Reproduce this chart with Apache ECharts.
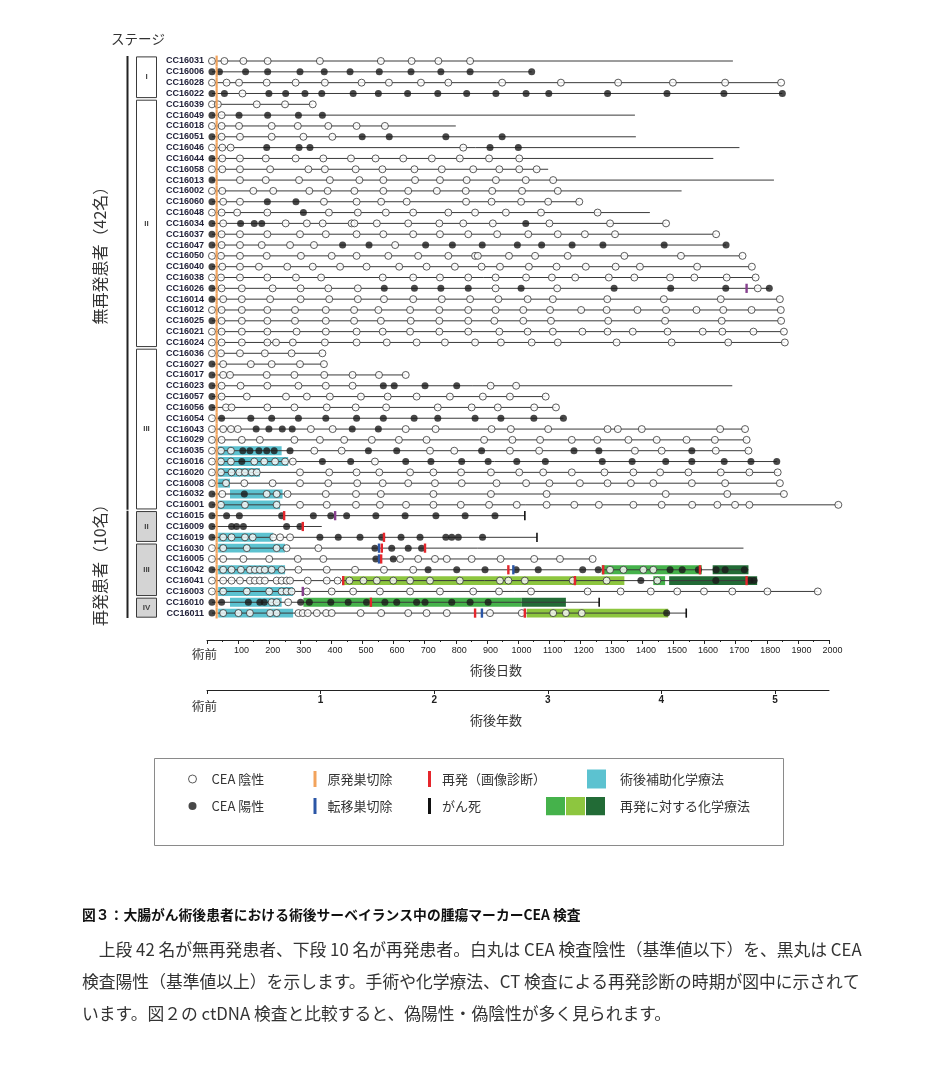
<!DOCTYPE html>
<html><head><meta charset="utf-8">
<script src="https://cdn.jsdelivr.net/npm/echarts@6.0.0/dist/echarts.min.js"></script>
<style>html,body{margin:0;padding:0;background:#fff}#c{width:945px;height:1067px}</style>
</head><body><div id="c"></div>
<script>
// ---------------- DATA (days after surgery) ----------------
const patients = ['CC16031','CC16006','CC16028','CC16022','CC16039','CC16049','CC16018','CC16051','CC16046','CC16044','CC16058','CC16013','CC16002','CC16060','CC16048','CC16034','CC16037','CC16047','CC16050','CC16040','CC16038','CC16026','CC16014','CC16012','CC16025','CC16021','CC16024','CC16036','CC16027','CC16017','CC16023','CC16057','CC16056','CC16054','CC16043','CC16029','CC16035','CC16016','CC16020','CC16008','CC16032','CC16001','CC16015','CC16009','CC16019','CC16030','CC16005','CC16042','CC16041','CC16003','CC16010','CC16011'];

const preopDay = 16;      // pre-operative CEA test position
const surgeryDay = 31;    // primary resection mark

const followUpEnd = [1691,1044,1846,1850,340,1376,800,1379,1712,1628,1097,1823,1526,1197,1424,1476,1637,1669,1722,1752,1764,1808,1842,1845,1846,1855,1858,371,376,639,1689,1089,1122,1146,1730,1735,1741,1832,1835,1842,1855,2030,1022,369,1061,1725,1240,1741,1769,1964,1261,1541];

const ceaNegative = [
 [16,56,117,195,363,559,658,744,846],
 [],
 [16,63,103,192,285,379,497,585,688,776,949,1138,1322,1498,1666,1846],
 [114],
 [16,35,160,251,340],
 [47],
 [16,47,103,208,292,390,481,572],
 [47,106,208,310,403],
 [16,49,76,824],
 [49,106,189,285,374,463,542,631,723,813,907,1004],
 [16,49,106,203,326,379,478,564,667,755,856,940,1004,1060],
 [106,189,296,395,490,567,669,749,835,929,1025,1113],
 [16,49,149,213,329,388,474,567,647,739,832,917,1013,1128],
 [52,106,376,481,560,642,833,915,1010,1097,1197],
 [16,47,97,194,392,485,575,663,776,862,961,1074,1256],
 [52,253,321,372,465,474,546,647,747,824,919,1101,1296,1476],
 [47,106,194,299,382,481,567,663,749,840,933,1033,1128,1215,1312,1637],
 [47,106,176,267,344,605],
 [16,45,106,192,302,401,481,583,679,776,862,871,971,1055,1160,1342,1524,1722],
 [49,106,167,258,340,428,513,618,706,797,883,942,1035,1124,1218,1314,1392,1576,1752],
 [16,45,106,194,286,367,565,663,749,840,928,1026,1109,1184,1292,1374,1489,1567,1671,1764],
 [47,112,211,301,390,485,928,1126,1771],
 [52,112,203,301,393,485,569,663,755,846,937,1031,1112,1287,1469,1652,1842],
 [16,47,112,194,283,382,473,551,653,747,840,928,1017,1103,1203,1285,1384,1476,1574,1660,1751,1845],
 [47,112,194,283,382,473,559,655,747,840,924,1017,1106,1290,1473,1655,1846],
 [16,47,112,194,288,382,481,565,653,747,840,940,1031,1112,1207,1288,1369,1481,1594,1657,1757,1855],
 [16,47,112,194,222,276,379,481,578,674,765,862,945,1044,1128,1317,1494,1676,1858],
 [16,45,106,186,272,371],
 [52,141,208,299,376],
 [52,74,192,281,377,468,553,639],
 [47,108,194,294,382,468,912,994],
 [47,128,254,321,395,495,581,674,781,887,974,1089],
 [61,79,194,281,385,478,576,742,851,935,1052,1122],
 [16],
 [16,52,77,99,334,404,639,735,915,977,1097,1288,1321,1398,1650,1730],
 [16,47,112,170,281,363,441,530,617,706,891,982,1071,1173,1255,1355,1446,1542,1633,1735],
 [16,45,77,345,433,717,795,974,1068,1376,1462,1636,1741],
 [16,45,77,152,184,219,251,276,540],
 [16,45,79,104,122,144,160,299,393,481,554,653,728,817,913,1004,1081,1173,1278,1371,1457,1548,1652,1744,1835],
 [16,61,120,211,299,390,483,565,647,733,819,931,1026,1101,1199,1288,1363,1435,1559,1666,1842],
 [49,192,224,259,382,479,559,728,913,1092,1475,1673,1855],
 [45,122,224,299,385,479,556,640,728,816,907,996,1092,1181,1260,1371,1462,1560,1641,1698,1744,2030],
 [],
 [],
 [52,79,122,147,213,235,267],
 [16,52,128,224,256,358],
 [16,52,117,200,292,374,621,679,733,771,851,944,1052,1135,1240],
 [52,79,109,138,154,170,186,208,240,294,385,476,569,663,1296,1339,1403,1435],
 [16,52,79,106,138,154,170,186,224,240,256,267,324,385,420,458,503,546,599,653,717,813,942,969,1022,1176,1285,1448],
 [16,52,128,200,240,256,272,321,401,470,556,653,749,856,939,1042,1224,1330,1427,1512,1598,1689,1802,1964],
 [208,224,261],
 [52,101,138,203,224,294,308,324,353,383,401,494,560,647,706,771,910,1012,1113,1154,1205]
];

const ceaPositive = [
 [],
 [16,40,124,195,299,377,460,554,656,752,846,1044],
 [],
 [16,56,199,253,315,369,470,551,645,742,835,929,1026,1099,1288,1479,1662,1850],
 [],
 [16,103,195,294,371],
 [],
 [16,499,586,768,949],
 [192,296,331,910,1001],
 [16],
 [],
 [16],
 [],
 [16,194,286],
 [310],
 [16,108,152,176,1025],
 [16],
 [16,436,521,703,789,885,998,1076,1174,1273,1470,1669],
 [],
 [16],
 [],
 [16,570,667,752,840,1010,1309,1491,1668,1808],
 [16],
 [],
 [16],
 [],
 [],
 [],
 [16],
 [16],
 [16,567,602,701,803],
 [16],
 [16],
 [47,141,208,294,382,481,567,666,742,862,945,1051,1146],
 [158,199,242,274,467,551],
 [],
 [115,138,167,192,216,267,519,610,883,1180,1260,1559],
 [112,371,462,639,720,819,904,996,1088,1271,1367,1475,1559,1663,1749,1832],
 [],
 [],
 [16,120],
 [16],
 [16,63,104,240,342,398,449,543,637,736,830,926],
 [16,79,95,117,256,299],
 [16,363,422,492,562,624,685,768,787,808,886],
 [540,594,647,690],
 [543,599],
 [16,711,803,894,994,1065,1208,1258,1489,1528,1580,1637,1666,1728],
 [1395,1636,1746,1759],
 [],
 [16,47,133,170,184,301,329,398,454,513,572,610,674,701,787,846,904],
 [16,1478]
];

// [row, start, end]
const adjuvantChemo = [[36,36,240],[37,36,261],[38,36,170],[39,36,74],[40,74,243],[41,36,235],[44,36,213],[45,36,251],[47,36,251],[49,36,277],[50,74,240],[51,36,277]];
// [row, start, end, shade] shade: 0 medium, 1 light, 2 dark
const relapseChemo = [[47,1269,1591,0],[47,1626,1741,2],[48,438,1342,1],[48,1435,1473,0],[48,1486,1769,2],[50,310,1012,0],[50,1012,1154,2],[51,1028,1483,1]];
// [row, day]
const recurrenceMarks = [[42,248],[43,308],[44,569],[45,562],[45,701],[46,560],[47,969],[47,1274],[47,1585],[48,438],[48,1183],[48,1735],[50,527],[51,862],[51,1022]];
const metastasectomyMarks = [[45,553],[46,553],[47,985],[51,884]];
const mixedMarks = [[21,1735],[42,412],[49,308]];
const deathMarks = [[42,1022],[44,1061],[50,1261],[51,1541]];

const stageLabels = ['I','II','III','II','III','IV'];
const stageStart  = [0,4,27,42,45,50];
const stageEnd    = [3,26,41,44,49,51];
const stageShaded = [0,0,0,1,1,1];

const groupNames = ['無再発患者（42名）','再発患者（10名）'];
const groupStart = [0,42];
const groupEnd   = [41,51];
const groupLabelRow = [17.6,46.2];

const dayTicksMax = 2000;
const yearLabels = [0,1,2,3,4,5];

const captionTitle = '図３：大腸がん術後患者における術後サーベイランス中の腫瘍マーカーCEA 検査';
const captionLines = [
 '\u3000上段 42 名が無再発患者、下段 10 名が再発患者。白丸は CEA 検査陰性（基準値以下）を、黒丸は CEA',
 '検査陽性（基準値以上）を示します。手術や化学療法、CT 検査による再発診断の時期が図中に示されて',
 'います。図２の ctDNA 検査と比較すると、偽陽性・偽陰性が多く見られます。'
];

// ---------------- STYLE / LAYOUT ----------------
const X0 = 207, PX_PER_DAY = 0.311, ROW_TOP = 55.6, ROW_H = 10.825, MAIN_MAX = 2060;
const C = {line:'#3a3a3a', surgery:'#f2a35c', red:'#e5262c', blue:'#2b56a6', purple:'#86408e', death:'#111',
  cyan:'#5cc2d0', greens:['#45b24b','#8dc63f','#226b36']};
const JP = 'Noto Sans CJK JP';
const greenIcon = 'image://data:image/svg+xml;utf8,' + encodeURIComponent(
 '<svg xmlns="http://www.w3.org/2000/svg" width="59" height="19"><rect x="0" y="0" width="19" height="19" fill="'+C.greens[0]+'"/><rect x="20" y="0" width="19" height="19" fill="'+C.greens[1]+'"/><rect x="40" y="0" width="19" height="19" fill="'+C.greens[2]+'"/></svg>');

const chart = echarts.init(document.getElementById('c'), null, {renderer:'canvas'});

function bandH(api){ return Math.abs(api.size([0,1])[1]); }
function markRenderer(color, w, frac){
  return function(params, api){
    const p = api.coord([api.value(0), api.value(1)]);
    const h = bandH(api)*frac;
    return {type:'rect', shape:{x:p[0]-w/2, y:p[1]-h/2, width:w, height:h}, style:{fill:color}};
  };
}
function spanRenderer(colorFn, frac){
  return function(params, api){
    const a = api.coord([api.value(0), api.value(1)]);
    const b = api.coord([api.value(2), api.value(1)]);
    const h = bandH(api)*frac;
    return {type:'rect', shape:{x:a[0], y:a[1]-h/2, width:b[0]-a[0], height:h}, style:{fill:colorFn(api)}};
  };
}

const negData = [], posData = [];
ceaNegative.forEach((l,i)=>l.forEach(d=>negData.push([d,i])));
ceaPositive.forEach((l,i)=>l.forEach(d=>posData.push([d,i])));

const legendText = {fontFamily:JP, fontSize:13, color:'#333', lineHeight:16};
function lg(left, top, names, w, h, gap, pad){
  return {orient:'vertical', left, top, padding:0, itemWidth:w, itemHeight:h, itemGap:gap, selectedMode:false,
    textStyle:Object.assign({}, legendText, {padding:[0,0,0,pad]}), data:names};
}

const option = {
  animation:false,
  backgroundColor:'#fff',
  title:[
    {text:captionTitle, left:82, top:905, padding:0, textStyle:{fontFamily:JP, fontSize:13.8, fontWeight:'bold', color:'#111', lineHeight:20}},
    {text:captionLines.join('\n'), left:82, top:934, padding:0, textStyle:{fontFamily:JP, fontSize:16.8, fontWeight:'normal', color:'#333', lineHeight:32}}
  ],
  legend:[
    lg(188, 771, [{name:'CEA 陰性', icon:'circle', itemStyle:{color:'#fff', borderColor:'#333', borderWidth:1}},
                  {name:'CEA 陽性', icon:'circle', itemStyle:{color:'#1a1a1a'}}], 8, 8, 11, 10),
    lg(313.5, 771, [{name:'原発巣切除', icon:'rect'}, {name:'転移巣切除', icon:'rect'}], 3, 16, 11, 6),
    lg(428, 771, [{name:'再発（画像診断）', icon:'rect'}, {name:'がん死', icon:'rect'}], 3, 16, 11, 6),
    lg(587, 769.5, [{name:'術後補助化学療法', icon:'rect'}], 19, 19, 8, 9),
    lg(546, 796.5, [{name:'再発に対する化学療法', icon:greenIcon}], 59, 19, 8, 10)
  ],
  graphic:[
    {type:'text', left:111, top:32, style:{text:'ステージ', fontFamily:JP, fontSize:13.5, fill:'#333'}},
    {type:'rect', left:152, top:756, shape:{width:629, height:87}, style:{fill:'none', stroke:'#8a8a8a', lineWidth:1}}
  ],
  grid:[
    {left:X0, top:ROW_TOP, width:PX_PER_DAY*MAIN_MAX, height:ROW_H*patients.length, outerBoundsMode:'none', containLabel:false},
    {left:X0, top:630, width:PX_PER_DAY*dayTicksMax, height:10, outerBoundsMode:'none', containLabel:false},
    {left:X0, top:680, width:PX_PER_DAY*dayTicksMax, height:10, outerBoundsMode:'none', containLabel:false}
  ],
  xAxis:[
    {gridIndex:0, type:'value', min:0, max:MAIN_MAX, show:false},
    {gridIndex:1, type:'value', min:0, max:dayTicksMax, interval:100, position:'bottom',
      axisLine:{lineStyle:{color:'#222', width:1}},
      axisTick:{length:4, lineStyle:{color:'#222'}},
      minorTick:{show:true, splitNumber:2, length:2, lineStyle:{color:'#222'}},
      splitLine:{show:false}, minorSplitLine:{show:false},
      axisLabel:{margin:6, showMinLabel:true, showMaxLabel:true,
        formatter:v=> v===0 ? '{pre|術前}' : '{num|'+v+'}',
        rich:{num:{fontFamily:'Liberation Sans', fontSize:9, color:'#222', padding:[0,0,0,7]},
              pre:{fontFamily:JP, fontSize:12.5, color:'#333', padding:[2,5,0,0]}}},
      name:'術後日数', nameLocation:'middle', nameGap:24,
      nameTextStyle:{fontFamily:JP, fontSize:13, color:'#333', padding:[0,44,0,0]}},
    {gridIndex:2, type:'value', min:0, max:dayTicksMax/365.25, position:'bottom',
      axisLine:{lineStyle:{color:'#222', width:1}},
      axisTick:{length:4, lineStyle:{color:'#222'}, customValues:yearLabels},
      splitLine:{show:false},
      axisLabel:{margin:5, customValues:yearLabels,
        formatter:v=> v===0 ? '{pre|術前}' : (Number.isInteger(v) ? '{num|'+v+'}' : ''),
        rich:{num:{fontFamily:'Liberation Sans', fontSize:10, fontWeight:'bold', color:'#222'},
              pre:{fontFamily:JP, fontSize:12.5, color:'#333', padding:[5,5,0,0]}}},
      name:'術後年数', nameLocation:'middle', nameGap:15,
      nameTextStyle:{fontFamily:JP, fontSize:13, color:'#333', padding:[0,44,0,0]}}
  ],
  yAxis:[
    {gridIndex:0, type:'category', data:patients, inverse:true,
      axisLine:{show:false}, axisTick:{show:false}, splitLine:{show:false},
      axisLabel:{interval:0, margin:3, fontFamily:'Liberation Sans', fontSize:9, fontWeight:'bold', color:'#22223a'}},
    {gridIndex:1, type:'value', show:false},
    {gridIndex:2, type:'value', show:false}
  ],
  series:[
    // stage boxes
    {type:'custom', name:'stage', xAxisIndex:0, yAxisIndex:0, clip:false, silent:true, z:1,
      encode:{x:0, y:[1,2]},
      data:stageLabels.map((s,i)=>[0, stageStart[i], stageEnd[i], i]),
      renderItem(params, api){
        const i = api.value(3), b = bandH(api), gx = params.coordSys.x;
        const y0 = api.coord([0, api.value(1)])[1] - b/2 + 1.3;
        const y1 = api.coord([0, api.value(2)])[1] + b/2 - 1.3;
        return {type:'group', children:[
          {type:'rect', shape:{x:gx-70.5, y:y0, width:20, height:y1-y0},
            style:{fill: stageShaded[i] ? '#d4d4d4' : '#fff', stroke:'#3a3a3a', lineWidth:1}},
          {type:'text', x:gx-60.5, y:(y0+y1)/2,
            style:{text:stageLabels[i], fontFamily:'Liberation Sans', fontSize:8, fontWeight:'bold', fill:'#444', align:'center', verticalAlign:'middle'}}
        ]};
      }},
    // group brackets and labels
    {type:'custom', name:'group', xAxisIndex:0, yAxisIndex:0, clip:false, silent:true, z:1,
      encode:{x:0, y:[1,2]},
      data:groupNames.map((g,i)=>[0, groupStart[i], groupEnd[i], i]),
      renderItem(params, api){
        const i = api.value(3), b = bandH(api), gx = params.coordSys.x;
        const top0 = api.coord([0, api.value(1)])[1];
        const y0 = top0 - b/2 + 0.5;
        const y1 = api.coord([0, api.value(2)])[1] + b/2 - 0.5;
        const ty = top0 + (groupLabelRow[i] - groupStart[i]) * b;
        return {type:'group', children:[
          {type:'rect', shape:{x:gx-80.5, y:y0, width:2, height:y1-y0}, style:{fill:'#222'}},
          {type:'text', x:gx-107, y:ty, rotation:Math.PI/2,
            style:{text:groupNames[i], fontFamily:JP, fontSize:16, fill:'#333', align:'center', verticalAlign:'middle'}}
        ]};
      }},
    // adjuvant chemotherapy
    {type:'custom', name:'術後補助化学療法', xAxisIndex:0, yAxisIndex:0, z:2, itemStyle:{color:C.cyan},
      encode:{x:[0,2], y:1},
      data:adjuvantChemo.map(r=>[r[1], r[0], r[2]]),
      renderItem:spanRenderer(()=>C.cyan, 0.82)},
    // chemotherapy for recurrence
    {type:'custom', name:'再発に対する化学療法', xAxisIndex:0, yAxisIndex:0, z:2, itemStyle:{color:C.greens[0]},
      encode:{x:[0,2], y:1},
      data:relapseChemo.map(r=>[r[1], r[0], r[2], r[3]]),
      renderItem:spanRenderer(api=>C.greens[api.value(3)], 0.82)},
    // follow-up lines
    {type:'custom', name:'follow', xAxisIndex:0, yAxisIndex:0, z:3, silent:true,
      encode:{x:[0,2], y:1},
      data:patients.map((p,i)=>[preopDay, i, followUpEnd[i]]),
      renderItem(params, api){
        const a = api.coord([api.value(0), api.value(1)]);
        const b = api.coord([api.value(2), api.value(1)]);
        return {type:'line', shape:{x1:a[0], y1:a[1], x2:b[0], y2:b[1]}, style:{stroke:C.line, lineWidth:1}};
      }},
    // CEA dots
    {type:'scatter', name:'CEA 陰性', xAxisIndex:0, yAxisIndex:0, z:4, symbol:'circle', symbolSize:7,
      itemStyle:{color:'#fff', borderColor:'#333', borderWidth:1}, data:negData},
    {type:'scatter', name:'CEA 陽性', xAxisIndex:0, yAxisIndex:0, z:4, symbol:'circle', symbolSize:7,
      itemStyle:{color:'#1a1a1a'}, data:posData},
    // surgery (primary resection)
    {type:'custom', name:'原発巣切除', xAxisIndex:0, yAxisIndex:0, z:5, itemStyle:{color:C.surgery},
      encode:{x:0, y:1}, data:patients.map((p,i)=>[surgeryDay, i]),
      renderItem:markRenderer(C.surgery, 2.2, 1.0)},
    {type:'custom', name:'転移巣切除', xAxisIndex:0, yAxisIndex:0, z:6, itemStyle:{color:C.blue},
      encode:{x:0, y:1}, data:metastasectomyMarks.map(r=>[r[1], r[0]]),
      renderItem:markRenderer(C.blue, 2.4, 0.85)},
    {type:'custom', name:'再発（画像診断）', xAxisIndex:0, yAxisIndex:0, z:6, itemStyle:{color:C.red},
      encode:{x:0, y:1}, data:recurrenceMarks.map(r=>[r[1], r[0]]),
      renderItem:markRenderer(C.red, 2.4, 0.85)},
    {type:'custom', name:'mixed', xAxisIndex:0, yAxisIndex:0, z:6, silent:true,
      encode:{x:0, y:1}, data:mixedMarks.map(r=>[r[1], r[0]]),
      renderItem:markRenderer(C.purple, 2.4, 0.85)},
    {type:'custom', name:'がん死', xAxisIndex:0, yAxisIndex:0, z:6, itemStyle:{color:C.death},
      encode:{x:0, y:1}, data:deathMarks.map(r=>[r[1], r[0]]),
      renderItem:markRenderer(C.death, 1.6, 0.85)}
  ]
};
chart.setOption(option);
</script>
</body></html>
